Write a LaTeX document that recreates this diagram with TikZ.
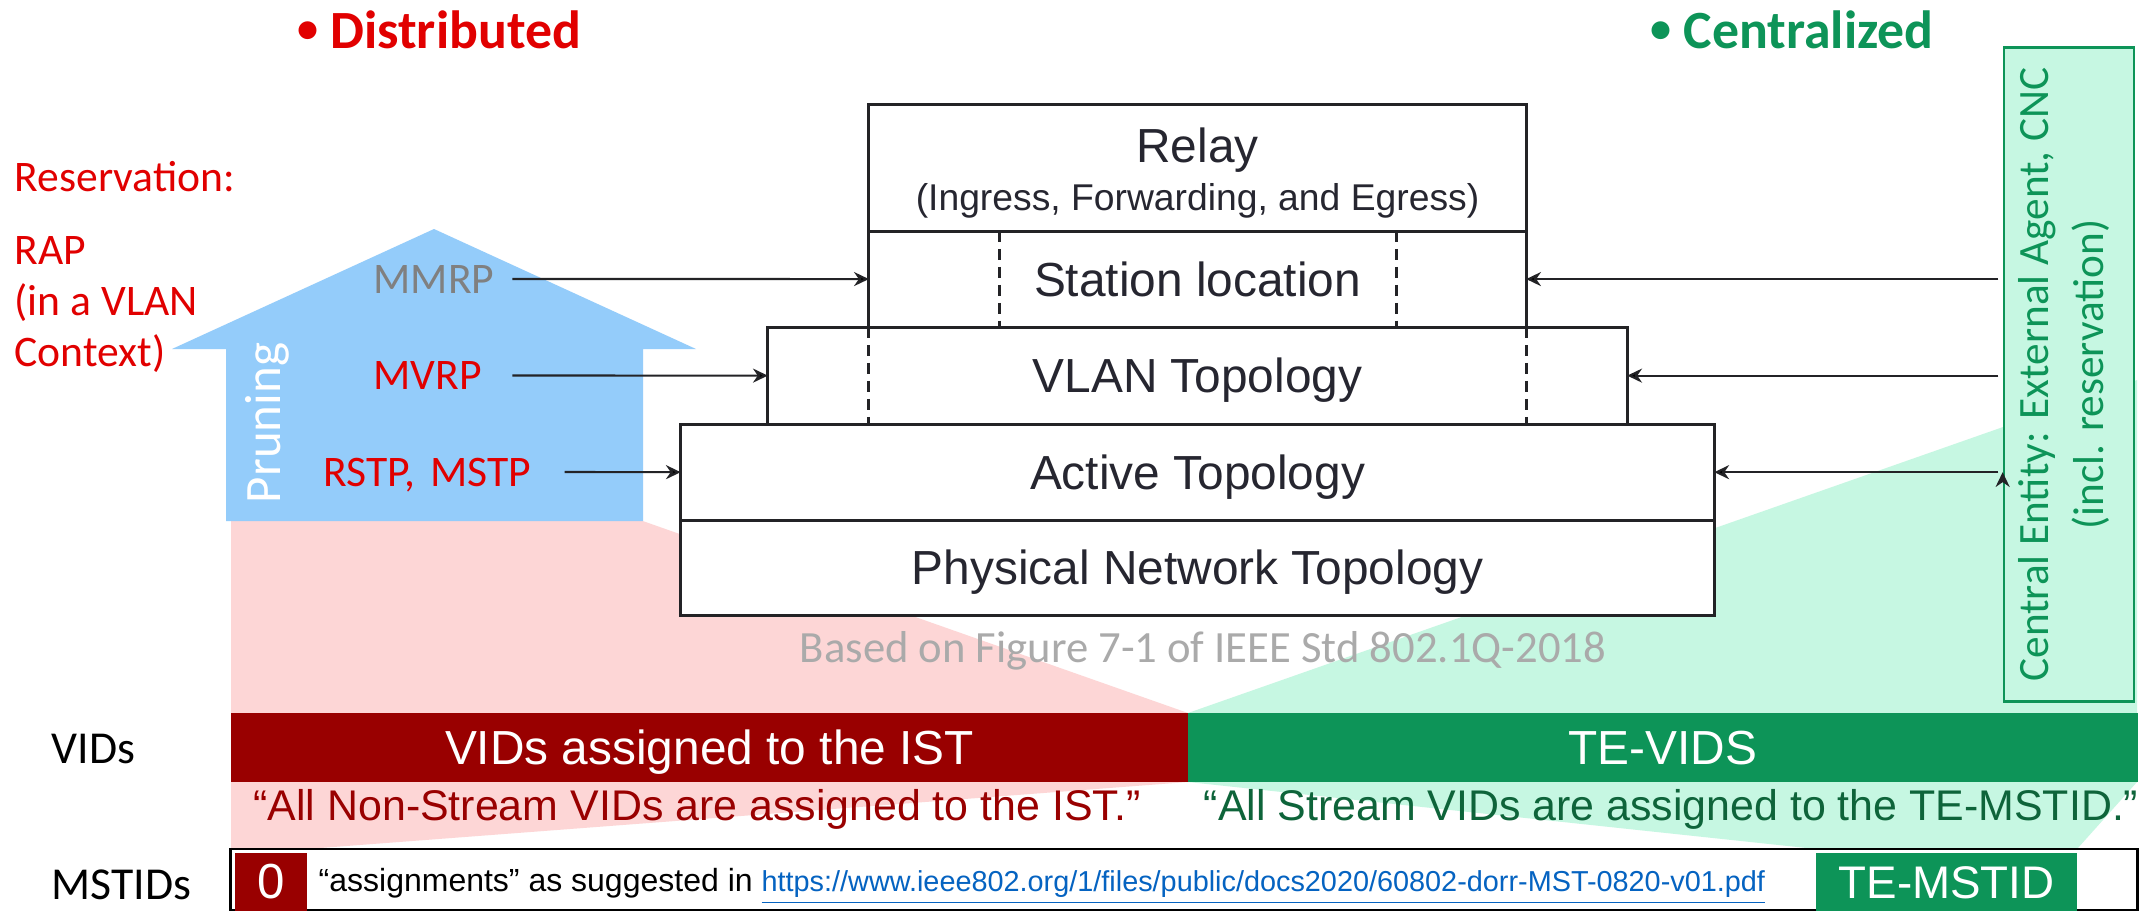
\documentclass[tikz,border=0pt]{standalone}
\usepackage{fontspec}
\setmainfont{Liberation Sans}
\newfontfamily\hilda{Carlito}
\usetikzlibrary{arrows.meta, positioning}
\newcommand{\sz}[2]{\fontsize{#1}{#2}\selectfont}
\newcommand{\headdot}{\raisebox{1.6pt}{\sz{12}{12}•}}
\definecolor{redtxt}{RGB}{225,0,0}
\definecolor{istred}{RGB}{153,0,0}
\definecolor{tegreen}{RGB}{13,148,88}
\definecolor{quotegreen}{RGB}{14,100,58}
\definecolor{mint}{RGB}{198,247,226}
\definecolor{istpink}{RGB}{253,214,214}
\definecolor{prune}{RGB}{148,204,250}
\definecolor{boxline}{RGB}{35,35,38}
\definecolor{boxtext}{RGB}{38,38,48}
\definecolor{basegray}{RGB}{170,170,170}
\definecolor{link}{RGB}{5,99,193}

\begin{document}
\begin{tikzpicture}[
        x=0.01cm, y=-0.01cm,
        tier/.style = {rectangle, draw=boxline, line width=0.85pt, fill=white, text=boxtext, inner sep=0pt, outer sep=0pt, text height=9.8pt, text depth=0pt, font=\sz{13.6}{16}},
        dashsep/.style = {draw=boxline, line width=0.85pt, dash pattern=on 3.1pt off 2pt},
        feed/.style = {draw=boxline, line width=0.6pt, -{Stealth[length=4.2pt, width=4pt]}},
        proto/.style = {anchor=west, align=left, inner sep=0pt, text height=8pt, text depth=0pt, font=\hilda\sz{12.4}{14}},
        redtext/.style = {text=redtxt, inner sep=0pt, align=left, font=\hilda\sz{12.4}{14.5}},
        head/.style = {anchor=base, inner sep=0pt, font=\hilda\bfseries\sz{15.3}{18}},
        bar/.style = {rectangle, inner sep=0pt, outer sep=0pt, minimum height=0.69cm, text=white, text height=9.8pt, text depth=0pt, font=\sz{13.6}{16}},
        saying/.style = {inner sep=0pt, text height=8.8pt, text depth=0pt, font=\sz{12.2}{14}},
        rowlbl/.style = {anchor=west, inner sep=0pt, text height=8.3pt, text depth=0pt, font=\hilda\sz{13}{15}},
        idbox/.style = {rectangle, inner sep=0pt, minimum height=0.58cm, text=white, text height=9.3pt, text depth=0pt}
        ]
        \useasboundingbox[fill=white] (0,0) rectangle (2146,912);

        % mapping wedges behind everything
        \fill[istpink] (231,376) -- (1188,713) -- (231,713) -- cycle;
        \fill[mint] (1188,713) -- (2137,380) -- (2137,713) -- cycle;
        \fill[istpink] (231,782) -- (1188,782) -- (307,849) -- (231,849) -- cycle;
        \fill[mint] (1188,782) -- (2137,782) -- (2077,849) -- (1816,849) -- cycle;

        % pruning arrow
        \fill[prune] (226,521) -- (226,349) -- (172,349) -- (434,229) -- (696,349) -- (643,349) -- (643,521) -- cycle;
        \node[rotate=90, text=white, inner sep=0pt, font=\hilda\sz{14.5}{16}] (pruning) at (267,423) {Pruning};

        \node[head, text=redtxt] (distr) at (439,48) {\headdot\ Distributed};
        \node[head, text=tegreen] (centr) at (1792,48) {\headdot\ Centralized};

        \node[redtext, anchor=base west] (resv) at (14,191) {Reservation:};
        \node[redtext, anchor=north west] (rap) at (14,236) {RAP\\(in a VLAN\\Context)};

        % layer stack
        \node[tier, minimum width=6.57cm, minimum height=1.26cm] (relay) at (1197.5,168) {};
        \node[tier, minimum width=6.57cm, minimum height=0.96cm] (station) [below=0pt of relay] {Station location};
        \node[tier, minimum width=8.59cm, minimum height=0.97cm] (vlan) [below=0pt of station] {VLAN Topology};
        \node[tier, minimum width=10.33cm, minimum height=0.96cm] (active) [below=0pt of vlan] {Active Topology};
        \node[tier, minimum width=10.33cm, minimum height=0.95cm] (phys) [below=0pt of active] {Physical Network Topology};
        \node[anchor=base, inner sep=0pt, text=boxtext, font=\sz{13.6}{16}] (relaytxt) at (1197.5,162) {Relay};
        \node[anchor=base, inner sep=0pt, text=boxtext, font=\sz{10.6}{12}] (relaysub) at (1197.5,210) {(Ingress, Forwarding, and Egress)};

        \draw[dashsep] (station.north west) ++(131,0) -- ++(0,96)
        (station.north east) ++(-130,0) -- ++(0,96)
        (station.south west) -- (station.south west |- vlan.south)
        (station.south east) -- (station.south east |- vlan.south);

        \node[text=basegray, inner sep=0pt, font=\hilda\sz{12.7}{15}] (based) at (1203,651) {Based on Figure 7-1 of IEEE Std 802.1Q-2018};

        % protocols and central entity
        \node[proto, text=gray, text width=1.38cm] (mmrp) at (373,279) {MMRP};
        \node[proto, text=redtxt, text width=1.38cm] (mvrp) at (373,375.5) {MVRP};
        \node[proto, text=redtxt, text width=2.40cm] (stp) at (323,472) {RSTP, MSTP};

        \node[draw=tegreen, line width=0.75pt, fill=mint, minimum width=1.3cm, minimum height=6.53cm] (cnc) at (2069,374.5) {};
        \node[rotate=90, text=tegreen, align=center, inner sep=0pt, font=\hilda\sz{12.3}{15.4}] (cnctxt) at (2064,374.5) {Central Entity: External Agent, CNC\\(incl. reservation)};

        \draw[feed] (mmrp.east) edge (station.west)
        (mvrp.east) edge (vlan.west)
        (stp.east) edge (active.west)
        (cnc.west |- station.east) edge[shorten <=1.2pt] (station.east)
        (cnc.west |- vlan.east) edge[shorten <=1.2pt] (vlan.east)
        (cnc.west |- active.east) edge[shorten <=1.2pt] (active.east);

        % VID and MSTID rows
        \node[rowlbl, text=black] (vids) at (51,749) {VIDs};
        \node[rowlbl, text=black] (mstids) at (51,885) {MSTIDs};
        \node[bar, fill=istred, minimum width=9.57cm] (ist) at (709.5,747.5) {VIDs assigned to the IST};
        \node[bar, fill=tegreen, minimum width=9.49cm] (tevids) [right=0pt of ist] {TE-VIDS};
        \node[saying, text=istred] (istq) at (697,805) {“All Non-Stream VIDs are assigned to the IST.”};
        \node[saying, text=quotegreen] (teq) at (1671,805) {“All Stream VIDs are assigned to the TE-MSTID.”};

        \node[draw=black, line width=0.75pt, minimum width=19.06cm, minimum height=0.61cm] (mst) at (1184,879.5) {};
        \node[idbox, fill=istred, minimum width=0.72cm, font=\sz{14}{16}] (zero) at (271,882) {0};
        \node[idbox, fill=tegreen, minimum width=2.61cm, font=\sz{13}{15}] (temstid) at (1946.5,882) {TE-MSTID};
        \node[anchor=west, inner sep=0pt, text height=6.5pt, text depth=0pt, font=\sz{9.1}{11}] (sugg) at (318,880) {“assignments” as suggested in \textcolor{link}{\sz{8.2}{11}\underline{https://www.ieee802.org/1/files/public/docs2020/60802-dorr-MST-0820-v01.pdf}}};
\end{tikzpicture}
\end{document}
